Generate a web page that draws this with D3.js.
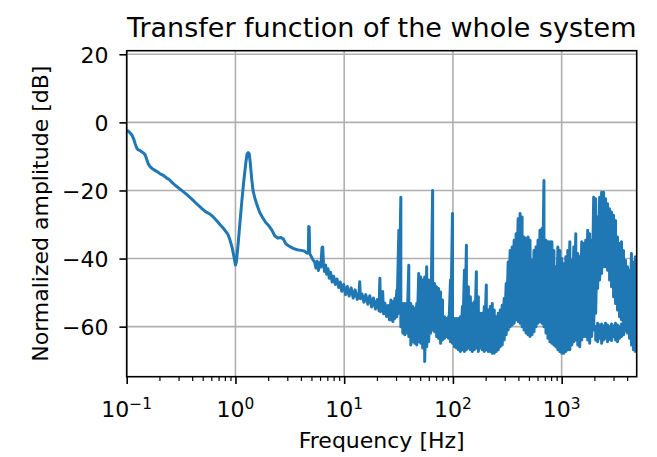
<!DOCTYPE html>
<html><head><meta charset="utf-8">
<script src="https://cdn.jsdelivr.net/npm/d3@7"></script>
<style>
body{margin:0;background:#fff}
svg{display:block}
text{font-family:"DejaVu Sans",sans-serif;fill:#000}
</style>
</head><body>
<svg id="c" width="657" height="457"></svg>
<script>
// ---------- data ----------
const lowFreq = [0.100,0.104,0.108,0.112,0.116,0.120,0.124,0.128,0.133,0.138,
 0.143,0.148,0.153,0.158,0.164,0.172,0.182,0.193,0.205,0.218,
 0.232,0.246,0.262,0.285,0.318,0.36,0.40,0.44,0.486,0.53,
 0.58,0.622,0.67,0.72,0.76,0.80,0.85,0.89,0.93,0.97,
 1.00,1.02,1.06,1.10,1.15,1.20,1.25,1.28,1.31,1.34,
 1.37,1.41,1.45,1.50,1.58,1.67,1.78,1.90,2.02,2.15,
 2.30,2.45,2.60,2.75,2.90,3.10,3.39,3.70,4.00,4.30,
 4.55,4.68,4.72,4.77,4.82,5.00,5.17,5.35,5.50,5.65,
 5.80,5.95,6.10,6.25,6.35,6.45,6.60,6.75,6.90,7.10,
 7.30,7.50,7.75,8.00,8.30,8.60,8.90,9.20,9.50,9.90,
 10.3,10.7,11.1,11.6,12.1,12.6,13.2,13.7,13.9,14.1,
 14.6,15.2,15.8,16.5,17.2,17.9,18.6,19.4,20.2,20.9,
 21.3,21.6,22.2,22.6,23.0,23.7,24.5,25.3,26.1];
const lowDb = [-2.4,-2.6,-3.2,-3.8,-4.9,-6.4,-7.6,-8.1,-8.3,-8.7,
 -9.0,-9.6,-10.9,-12.2,-13.0,-13.6,-14.1,-14.6,-15.2,-15.6,
 -16.3,-16.8,-17.7,-18.7,-19.9,-21.3,-22.6,-23.9,-25.2,-26.2,
 -26.9,-27.7,-28.8,-30.0,-30.8,-31.7,-32.8,-34.5,-36.6,-39.5,
 -41.9,-41.0,-35.5,-29.5,-22.5,-16.5,-11.5,-9.3,-8.9,-9.3,
 -12.0,-16.5,-19.9,-22.0,-24.3,-26.4,-28.0,-29.4,-30.3,-31.5,
 -33.3,-34.0,-33.8,-34.2,-35.6,-36.3,-37.0,-37.4,-37.6,-37.8,
 -38.4,-38.0,-30.6,-30.8,-38.6,-39.5,-40.4,-41.0,-42.8,-40.8,
 -43.5,-41.2,-42.5,-36.8,-36.6,-41.5,-43.8,-41.9,-44.6,-43.0,
 -45.8,-44.0,-46.9,-45.2,-47.6,-46.0,-48.5,-46.9,-49.6,-47.6,
 -50.6,-48.2,-51.0,-48.6,-51.6,-49.2,-52.0,-50.1,-46.8,-51.8,
 -50.4,-52.8,-50.6,-53.4,-50.9,-54.2,-51.6,-54.8,-52.0,-55.3,
 -45.8,-55.6,-52.4,-49.7,-56.2,-53.1,-57.0,-53.8,-58.0];

const noiseFreq = [26.9,28.06,29.27,30.52,31.84,33.2,34.6,36.1,37.7,39.3,
 41.0,42.7,44.6,46.5,48.5,50.6,52.7,55.0,57.4,59.8,
 62.4,65.1,67.9,70.8,73.8,77.0,80.3,83.8,87.4,91.1,
 95.0,99.1,103.4,107.8,112.5,117.3,122.3,127.6,133.1,138.8,
 144.8,151.0,157.5,164.3,171.4,178.7,186.4,194.4,202.8,211.5,
 220.6,230.1,240.0,250.3,261.1,272.3,284.0,296.2,309.0,322.3,
 336.1,350.6,365.6,381.4,397.8,414.9,432.7,451.3,470.7,491.0,
 512.1,534.1,557.1,581.0,606.0,632.1,659.3,687.6,717.2,748.0,
 780.2,813.8,848.8,885.2,923.3,963.0,1004,1048,1093,1140,
 1189,1240,1293,1349,1407,1467,1530,1596,1665,1736,
 1811,1889,1970,2055,2143,2235,2331,2432,2536,2645,
 2759,2878,3001,3130,3265,3406,3552,3705,3864,4030,
 4204,4384,4573,4770,4975];
const noiseHi = [-52.2,-52.7,-51.7,-49.3,-31.7,-22.0,-53.2,-53.2,-53.2,-42.0,
 -53.2,-54.1,-54.6,-53.2,-44.4,-45.4,-46.3,-45.4,-42.4,-46.3,
 -48.3,-20.0,-47.3,-48.3,-48.8,-49.8,-52.2,-57.1,-57.6,-57.1,
 -46.3,-26.8,-57.6,-57.6,-57.6,-57.1,-54.1,-43.4,-36.1,-48.3,
 -51.2,-53.2,-52.7,-43.9,-51.2,-56.1,-56.1,-54.1,-47.8,-55.1,
 -54.1,-53.2,-55.1,-57.1,-56.1,-55.1,-53.7,-51.7,-47.3,-41.0,
 -37.6,-36.6,-34.6,-32.7,-28.3,-26.8,-27.8,-33.7,-34.1,-33.7,
 -34.6,-40.5,-37.6,-36.6,-34.6,-31.7,-31.2,-17.1,-34.6,-35.1,
 -35.1,-35.1,-37.6,-42.4,-36.6,-37.6,-40.0,-41.5,-39.5,-37.6,
 -35.1,-40.5,-36.6,-32.7,-38.5,-39.5,-35.1,-35.6,-34.6,-31.7,
 -32.7,-34.6,-22.0,-22.4,-27.8,-22.0,-20.5,-20.5,-22.4,-23.9,
 -25.4,-26.3,-27.3,-28.8,-33.7,-35.6,-35.1,-37.6,-40.5,-42.4,
 -43.4,-38.5,-41.0,-39.5,-39.5];
const noiseLo = [-58.0,-58.5,-57.6,-57.1,-56.1,-60.0,-61.9,-62.4,-61.9,-62.9,
 -65.4,-64.4,-64.9,-65.4,-64.4,-64.9,-66.3,-70.2,-65.9,-64.4,
 -61.9,-61.0,-61.5,-62.9,-63.4,-64.9,-63.9,-63.4,-62.9,-63.4,
 -64.4,-64.9,-65.9,-66.3,-66.8,-67.3,-66.8,-67.3,-66.8,-66.3,
 -66.8,-67.3,-66.8,-66.3,-67.3,-66.3,-66.8,-67.3,-66.8,-67.3,
 -67.3,-67.8,-67.8,-67.3,-66.8,-65.9,-65.4,-63.9,-62.4,-61.0,
 -60.0,-59.5,-59.0,-58.0,-58.5,-59.0,-60.0,-61.0,-61.9,-62.4,
 -62.9,-62.4,-61.5,-60.0,-59.0,-58.5,-59.0,-60.0,-61.9,-63.4,
 -64.4,-64.9,-65.4,-65.9,-66.8,-67.3,-67.8,-67.8,-67.3,-66.8,
 -66.8,-65.4,-64.4,-63.9,-65.4,-65.9,-63.9,-62.9,-62.9,-63.9,
 -64.9,-62.9,-61.0,-56.1,-48.8,-46.3,-44.4,-42.4,-42.4,-43.4,
 -46.3,-48.3,-51.2,-53.2,-55.1,-57.1,-58.0,-59.0,-59.5,-61.9,
 -63.4,-65.4,-66.8,-67.3,-66.3];

const blobFreq = [2055,2143,2235,2331,2432,2536,2645,2759,2878,3001,3130,3265,3406,3552,3705,3864];
const blobHi = [-59.5,-59.0,-59.5,-59.2,-59.8,-59.0,-59.5,-60.0,-59.2,-59.8,-59.0,-59.5,-60.0,-59.2,-59.8,-60.0];
const blobLo = [-63.9,-64.4,-63.4,-64.9,-63.9,-63.4,-64.4,-63.7,-64.1,-62.9,-63.9,-64.4,-63.4,-62.9,-62.4,-61.5];

const xTicks = [0.1, 1, 10, 100, 1000];
const xTickExp = ["\u22121", "0", "1", "2", "3"];
const yTicks = [20, 0, -20, -40, -60];
const yTickLabels = ["20", "0", "\u221220", "\u221240", "\u221260"];
const titleText = "Transfer function of the whole system";
const xLabelText = "Frequency [Hz]";
const yLabelText = "Normalized amplitude [dB]";

// ---------- layout ----------
const L = 126.7, R = 636.7, T = 50.7, B = 376.7;
const svg = d3.select("#c");
const x = d3.scaleLog().domain([0.1, 4900]).range([L, R]);
const y = d3.scaleLinear().domain([-74.7, 21.05]).range([B, T]);

svg.append("defs").append("clipPath").attr("id","clip")
  .append("rect").attr("x",L).attr("y",T).attr("width",R-L).attr("height",B-T);

// grid
const grid = svg.append("g");
grid.selectAll("line.gx").data(xTicks).join("line")
  .attr("x1",d=>x(d)).attr("x2",d=>x(d)).attr("y1",T).attr("y2",B)
  .attr("stroke","#b0b0b0").attr("stroke-width",1.6);
grid.selectAll("line.gy").data(yTicks).join("line")
  .attr("y1",d=>y(d)).attr("y2",d=>y(d)).attr("x1",L).attr("x2",R)
  .attr("stroke","#b0b0b0").attr("stroke-width",1.6);

// series
const pts = lowFreq.map((f,i)=>[f, lowDb[i]]);
noiseFreq.forEach((f,i)=>{ pts.push([f, noiseHi[i]]); pts.push([f, noiseLo[i]]); });
pts.push([NaN, NaN]);
blobFreq.forEach((f,i)=>{ pts.push([f, blobHi[i]]); pts.push([f, blobLo[i]]); });

const line = d3.line().defined(d=>!isNaN(d[0])).x(d=>x(d[0])).y(d=>y(d[1]));
svg.append("path").datum(pts).attr("clip-path","url(#clip)")
  .attr("d", line).attr("fill","none").attr("stroke","#1f77b4")
  .attr("stroke-width",3).attr("stroke-linejoin","round");

// axes (ticks)
const minor = [];
[0.1,1,10,100,1000].forEach(dec=>{ for(let m=2;m<=9;m++){ const v=m*dec; if(v<=4900) minor.push(v);} });
const xAxisMajor = d3.axisBottom(x).tickValues(xTicks).tickSize(7.3).tickFormat("");
const xAxisMinor = d3.axisBottom(x).tickValues(minor).tickSize(4.2).tickFormat("");
const gxM = svg.append("g").attr("transform",`translate(0,${B})`).call(xAxisMajor);
const gxm = svg.append("g").attr("transform",`translate(0,${B})`).call(xAxisMinor);
const yAxis = d3.axisLeft(y).tickValues(yTicks).tickSize(7.3).tickFormat("");
const gy = svg.append("g").attr("transform",`translate(${L},0)`).call(yAxis);
[gxM,gxm,gy].forEach(g=>{ g.select(".domain").remove(); g.selectAll("line").attr("stroke","#000").attr("stroke-width",1.6); });
gxm.selectAll("line").attr("stroke-width",1.2);

// spines
svg.append("rect").attr("x",L).attr("y",T).attr("width",R-L).attr("height",B-T)
  .attr("fill","none").attr("stroke","#000").attr("stroke-width",1.6);

// tick labels
const FS = 22;
xTicks.forEach((v,i)=>{
  const t = svg.append("text").attr("x",x(v)).attr("y",417).attr("text-anchor","middle").attr("font-size",FS);
  t.append("tspan").text("10");
  t.append("tspan").attr("font-size",FS*0.7).attr("dy",-8).text(xTickExp[i]);
});
yTicks.forEach((v,i)=>{
  svg.append("text").attr("x",108.5).attr("y",y(v)+8.3).attr("text-anchor","end")
    .attr("font-size",FS).text(yTickLabels[i]);
});

// labels
svg.append("text").attr("x",(L+R)/2).attr("y",448).attr("text-anchor","middle")
  .attr("font-size",FS).text(xLabelText);
svg.append("text").attr("transform",`translate(48,${(T+B)/2}) rotate(-90)`)
  .attr("text-anchor","middle").attr("font-size",FS).text(yLabelText);
svg.append("text").attr("x",(L+R)/2).attr("y",37).attr("text-anchor","middle")
  .attr("font-size",27).text(titleText);
</script>
</body></html>
